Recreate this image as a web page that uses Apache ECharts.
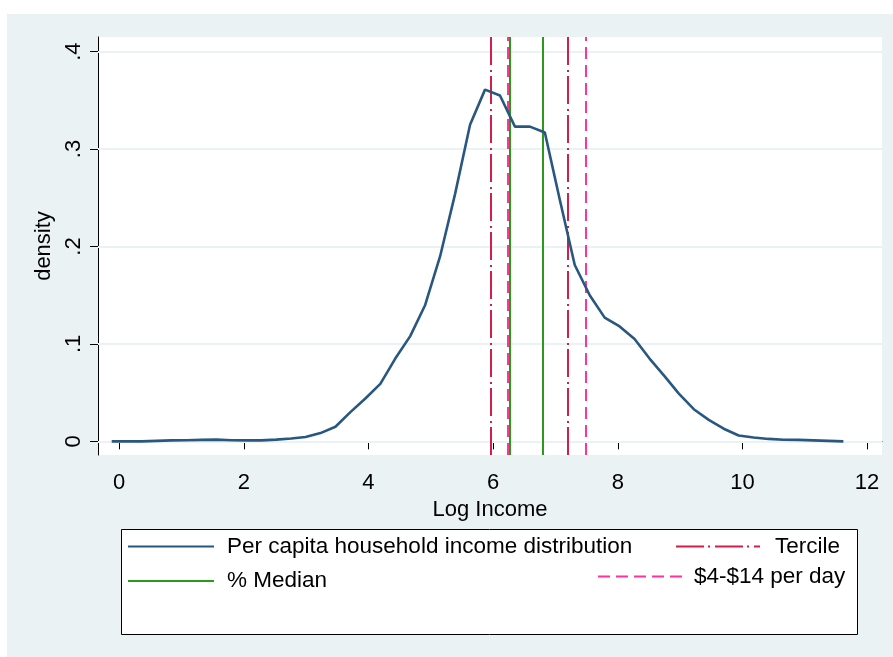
<!DOCTYPE html>
<html>
<head>
<meta charset="utf-8">
<script src="https://cdn.jsdelivr.net/npm/echarts@6/dist/echarts.min.js"></script>
<style>
html,body{margin:0;padding:0;background:#ffffff;}
#chart{width:893px;height:657px;}
</style>
</head>
<body>
<div id="chart"></div>
<script>
// ---- data ----
const logIncome = [-0.12,0.12,0.36,0.60,0.84,1.08,1.32,1.56,1.80,2.04,
  2.28,2.52,2.76,2.99,3.23,3.47,3.71,3.95,4.19,4.43,
  4.67,4.91,5.15,5.39,5.63,5.87,6.11,6.35,6.59,6.83,
  7.07,7.31,7.55,7.79,8.03,8.27,8.51,8.75,8.98,9.22,
  9.46,9.70,9.94,10.18,10.42,10.66,10.90,11.14,11.38,11.62];
const density = [0.000,0.000,0.000,0.0005,0.001,0.0012,0.0015,0.0018,0.0012,0.001,
  0.001,0.0018,0.003,0.0045,0.0085,0.015,0.030,0.044,0.059,0.085,
  0.108,0.140,0.190,0.254,0.325,0.361,0.355,0.323,0.323,0.317,
  0.248,0.181,0.150,0.127,0.118,0.105,0.085,0.067,0.049,0.033,
  0.022,0.013,0.006,0.004,0.0025,0.0017,0.0015,0.001,0.0005,0.000];
const terciles = [5.97, 7.20];
const medianLines = [6.27, 6.79];
const dayLines = [6.24, 7.49];
const xTicks = [0,2,4,6,8,10,12];
const xTickLabels = ['0','2','4','6','8','10','12'];
const yTicks = [0,0.1,0.2,0.3,0.4];
const yTickLabels = ['0','.1','.2','.3','.4'];
const seriesNames = ['Per capita household income distribution','Tercile','% Median','$4-$14 per day'];

const FONT = 'Liberation Sans, Arial, Helvetica, sans-serif';
const C_BLUE = '#28577f', C_RED = '#d21e4b', C_GREEN = '#2a9a1c', C_PINK = '#ff3399';
const GRID_C = '#eaf2f3';

function tickLabel(ticks, labels){
  return function(v){
    for (let i=0;i<ticks.length;i++){ if (Math.abs(ticks[i]-v)<1e-9) return labels[i]; }
    return '';
  };
}
function vLines(arr){ return arr.map(v => ({xAxis: v})); }

const chart = echarts.init(document.getElementById('chart'), null, {renderer:'canvas'});
const legendText = {color:'#000', fontSize:22.5, fontFamily:FONT};
const noSymbol = {opacity:0, borderWidth:0};

chart.setOption({
  animation:false,
  backgroundColor:'#ffffff',
  textStyle:{fontFamily:FONT},
  graphic:[
    {type:'rect', z:-10, shape:{x:7,y:14,width:886,height:643}, style:{fill:GRID_C}},
    {type:'rect', z:1, shape:{x:121.5,y:529.5,width:736,height:105}, style:{fill:'#ffffff', stroke:'#000', lineWidth:1}}
  ],
  grid:{left:98, right:11, top:37, bottom:202, containLabel:false, outerBoundsMode:'none',
        show:true, backgroundColor:'#ffffff', borderWidth:0},
  legend:[
    {data:[seriesNames[0], seriesNames[2]], orient:'vertical', left:127, top:535, padding:0,
     itemWidth:86, itemHeight:20, itemGap:11.5, itemStyle:noSymbol,
     textStyle:Object.assign({padding:[0,0,0,8]}, legendText), z:5},
    {data:[seriesNames[1]], orient:'horizontal', left:675, top:535, padding:0,
     itemWidth:84, itemHeight:20, itemStyle:noSymbol,
     textStyle:Object.assign({padding:[0,0,0,10]}, legendText), z:5},
    {data:[seriesNames[3]], orient:'horizontal', left:597, top:565, padding:0,
     itemWidth:85, itemHeight:20, itemStyle:noSymbol,
     textStyle:Object.assign({padding:[0,0,0,6]}, legendText), z:5}
  ],
  xAxis:{
    type:'value', min:-0.34, max:12.24,
    name:'Log Income', nameLocation:'middle', nameGap:37,
    nameTextStyle:{color:'#000', fontSize:22, fontFamily:FONT},
    axisLine:{show:true, lineStyle:{color:'#000', width:1}},
    axisTick:{show:true, length:8, lineStyle:{color:'#000', width:1}, customValues:xTicks},
    axisLabel:{show:true, color:'#000', fontSize:22, margin:17, fontFamily:FONT,
               customValues:xTicks, formatter:tickLabel(xTicks, xTickLabels)},
    splitLine:{show:false}
  },
  yAxis:{
    type:'value', min:-0.014, max:0.415,
    name:'density', nameLocation:'middle', nameGap:39,
    nameTextStyle:{color:'#000', fontSize:22, fontFamily:FONT},
    axisLine:{show:true, onZero:false, lineStyle:{color:'#000', width:1}},
    axisTick:{show:true, length:8, lineStyle:{color:'#000', width:1}, customValues:yTicks},
    axisLabel:{show:true, color:'#000', fontSize:22, margin:13, rotate:90, fontFamily:FONT,
               customValues:yTicks, formatter:tickLabel(yTicks, yTickLabels)},
    splitLine:{show:false}
  },
  series:[
    {
      name:'gridlines', type:'line', data:[], silent:true, z:1,
      markLine:{silent:true, symbol:['none','none'], label:{show:false},
        lineStyle:{color:GRID_C, width:2, type:'solid'},
        emphasis:{disabled:true},
        data: yTicks.map(v => ({yAxis:v}))}
    },
    {
      name:seriesNames[0], type:'line', z:5,
      data: logIncome.map((x,i) => [x, density[i]]),
      symbol:'none', showSymbol:false, smooth:false,
      lineStyle:{color:C_BLUE, width:2.6}, itemStyle:{color:C_BLUE}
    },
    {
      name:seriesNames[1], type:'line', data:[], z:3, symbol:'none',
      lineStyle:{color:C_RED, width:2, type:[28,4,2,5]}, itemStyle:{color:C_RED},
      markLine:{silent:true, symbol:['none','none'], label:{show:false}, emphasis:{disabled:true},
        lineStyle:{color:C_RED, width:2, type:[28,4,2,5]}, data:vLines(terciles)}
    },
    {
      name:seriesNames[2], type:'line', data:[], z:3, symbol:'none',
      lineStyle:{color:C_GREEN, width:2, type:'solid'}, itemStyle:{color:C_GREEN},
      markLine:{silent:true, symbol:['none','none'], label:{show:false}, emphasis:{disabled:true},
        lineStyle:{color:C_GREEN, width:2, type:'solid'}, data:vLines(medianLines)}
    },
    {
      name:seriesNames[3], type:'line', data:[], z:3, symbol:'none',
      lineStyle:{color:C_PINK, width:2, type:[12,6]}, itemStyle:{color:C_PINK},
      markLine:{silent:true, symbol:['none','none'], label:{show:false}, emphasis:{disabled:true},
        lineStyle:{color:C_PINK, width:2, type:[12,6]}, data:vLines(dayLines)}
    }
  ]
});
</script>
</body>
</html>
